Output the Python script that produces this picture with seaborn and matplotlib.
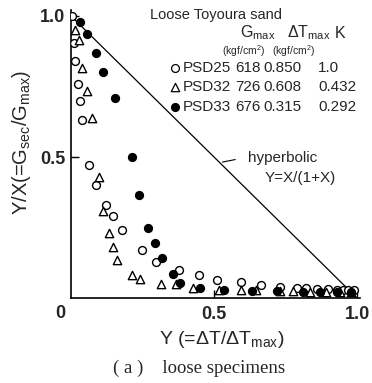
import matplotlib
matplotlib.use("Agg")
import matplotlib.pyplot as plt
import seaborn as sns
import pandas as pd

# ---------------- data ----------------
psd25_x = [0.003, 0.010, 0.014, 0.024, 0.031, 0.040, 0.063, 0.087, 0.124, 0.147, 0.179,
           0.248, 0.298, 0.378, 0.448, 0.510, 0.596, 0.664, 0.73, 0.79, 0.82, 0.86,
           0.90, 0.93, 0.95, 0.97, 0.99]
psd25_y = [1.00, 0.905, 0.84, 0.76, 0.70, 0.63, 0.47, 0.40, 0.33, 0.29, 0.24,
           0.17, 0.128, 0.10, 0.080, 0.065, 0.055, 0.045, 0.040, 0.035, 0.035, 0.032,
           0.032, 0.030, 0.030, 0.030, 0.030]

psd32_x = [0.014, 0.028, 0.038, 0.056, 0.073, 0.098, 0.111, 0.133, 0.148, 0.160, 0.214,
           0.243, 0.313, 0.368, 0.427, 0.517, 0.594, 0.647, 0.73, 0.776, 0.836, 0.89,
           0.94, 0.98]
psd32_y = [0.95, 0.915, 0.815, 0.735, 0.64, 0.43, 0.31, 0.232, 0.18, 0.135, 0.080,
           0.067, 0.050, 0.048, 0.036, 0.028, 0.028, 0.027, 0.025, 0.024, 0.022, 0.020,
           0.020, 0.020]

psd33_x = [0.031, 0.056, 0.087, 0.112, 0.153, 0.213, 0.238, 0.270, 0.292, 0.318, 0.358,
           0.381, 0.450, 0.535, 0.633, 0.72, 0.81, 0.87, 0.93, 0.98]
psd33_y = [0.98, 0.935, 0.87, 0.80, 0.71, 0.50, 0.365, 0.25, 0.195, 0.142, 0.084,
           0.053, 0.036, 0.028, 0.025, 0.024, 0.023, 0.022, 0.022, 0.022]

hyper_x = [0.0, 1.0]
hyper_y = [1.0, 0.0]

series_names = ["PSD25", "PSD32", "PSD33"]
gmax_vals = ["618", "726", "676"]
dtmax_vals = ["0.850", "0.608", "0.315"]
k_vals = ["1.0", "0.432", "0.292"]

x_ticks = [0.5, 1.0]
y_ticks = [0.5, 1.0]
x_ticklabels = ["0.5", "1.0"]
y_ticklabels = ["0.5", "1.0"]

# ---------------- figure ----------------
sns.set_theme(style="ticks")
plt.rcParams['font.family'] = ['Liberation Sans', 'DejaVu Sans']
plt.rcParams['mathtext.fontset'] = 'custom'
plt.rcParams['mathtext.rm'] = 'Liberation Sans'
plt.rcParams['mathtext.it'] = 'Liberation Sans'
plt.rcParams['mathtext.bf'] = 'Liberation Sans:bold'

W, H = 372, 383
fig = plt.figure(figsize=(W / 100, H / 100), dpi=100)
fig.patch.set_facecolor("white")

def fx(px):
    return px / W

def fy(py):
    return 1 - py / H

# axes: x 0 -> px 71, 1.0 -> px 357 ; y 0 -> px 298, 1.0 -> px 16
x0, x1 = 71, 357
y0, y1 = 298, 16
xmax, ymax = 1.012, 1.02
ax_w = (x1 - x0) * xmax
ax_h = (y0 - y1) * ymax
ax = fig.add_axes([fx(x0), fy(y0), ax_w / W, ax_h / H])
ax.set_facecolor("white")

frames = []
for name, xs, ys in [("PSD25", psd25_x, psd25_y), ("PSD32", psd32_x, psd32_y),
                     ("PSD33", psd33_x, psd33_y)]:
    frames.append(pd.DataFrame({"x": xs, "y": ys, "series": name}))
df = pd.concat(frames, ignore_index=True)

line_df = pd.DataFrame({"x": hyper_x, "y": hyper_y})
sns.lineplot(data=line_df, x="x", y="y", ax=ax, color="black", linewidth=0.9,
             legend=False, zorder=1)

styles = {
    "PSD25": dict(marker="o", facecolor="white", s=32),
    "PSD32": dict(marker="^", facecolor="white", s=36),
    "PSD33": dict(marker="o", facecolor="black", s=32),
}
for name in series_names:
    sub = df[df["series"] == name]
    st = styles[name]
    sns.scatterplot(data=sub, x="x", y="y", ax=ax, marker=st["marker"],
                    facecolor=st["facecolor"], edgecolor="black", linewidth=1.0,
                    s=st["s"], legend=False, zorder=3)

ax.set_xlim(0, xmax)
ax.set_ylim(0, ymax)
ax.set_xticks(x_ticks)
ax.set_xticklabels(x_ticklabels, fontsize=13, fontweight="bold")
ax.set_yticks(y_ticks)
ax.set_yticklabels(y_ticklabels, fontsize=13, fontweight="bold")
ax.tick_params(direction="in", length=6, width=1, color="black", pad=4)
ax.tick_params(axis="x", pad=6)
for s in ["top", "right"]:
    ax.spines[s].set_visible(False)
for s in ["left", "bottom"]:
    ax.spines[s].set_color("black")
    ax.spines[s].set_linewidth(1.2)
ax.set_xlabel("")
ax.set_ylabel("")

# origin label
fig.text(fx(60), fy(313), "0", fontsize=13, fontweight="bold",
         ha="center", va="center")

# axis labels
fig.text(fx(222), fy(340), r"Y (=ΔT/ΔT$_{\rm max}$)", fontsize=14,
         ha="center", va="center")
fig.text(fx(22), fy(142), r"Y/X(=G$_{\rm sec}$/G$_{\rm max}$)", fontsize=14.5,
         ha="center", va="center", rotation=90)

# caption
fig.text(fx(199), fy(368), "( a )    loose specimens", fontsize=13.5,
         family=["Liberation Serif", "DejaVu Serif"],
         ha="center", va="center")

# hyperbolic annotation
ax.annotate("", xy=(0.52, 0.48), xycoords="data",
            xytext=(fx(238), fy(159)), textcoords="figure fraction",
            arrowprops=dict(arrowstyle="-", color="black", lw=0.8))
fig.text(fx(248), fy(158), "hyperbolic", fontsize=11, ha="left", va="center")
fig.text(fx(265), fy(178), "Y=X/(1+X)", fontsize=11, ha="left", va="center")

# legend block
fig.text(fx(150), fy(15), "Loose Toyoura sand", fontsize=10.5, ha="left", va="center")
fig.text(fx(240), fy(33), r"G$_{\rm max}$", fontsize=11.5, ha="left", va="center")
fig.text(fx(287), fy(33), r"ΔT$_{\rm max}$", fontsize=11.5, ha="left", va="center")
fig.text(fx(335), fy(33), "K", fontsize=11.5, ha="left", va="center")
fig.text(fx(222), fy(51), r"(kgf/cm$^2$)", fontsize=7.5, ha="left", va="center")
fig.text(fx(272), fy(51), r"(kgf/cm$^2$)", fontsize=7.5, ha="left", va="center")

row_y = [68, 87, 107]
for i, name in enumerate(series_names):
    st = styles[name]
    ax.scatter([fx(175)], [fy(row_y[i])], transform=fig.transFigure,
               marker=st["marker"], facecolor=st["facecolor"], edgecolor="black",
               linewidth=0.9, s=st["s"], clip_on=False, zorder=5)
    fig.text(fx(183), fy(row_y[i]), name, fontsize=11, ha="left", va="center")
    fig.text(fx(235), fy(row_y[i]), gmax_vals[i], fontsize=11, ha="left", va="center")
    fig.text(fx(263), fy(row_y[i]), dtmax_vals[i], fontsize=11, ha="left", va="center")
    fig.text(fx(318), fy(row_y[i]), k_vals[i], fontsize=11, ha="left", va="center")

fig.savefig("out.png", dpi=100, facecolor="white")
